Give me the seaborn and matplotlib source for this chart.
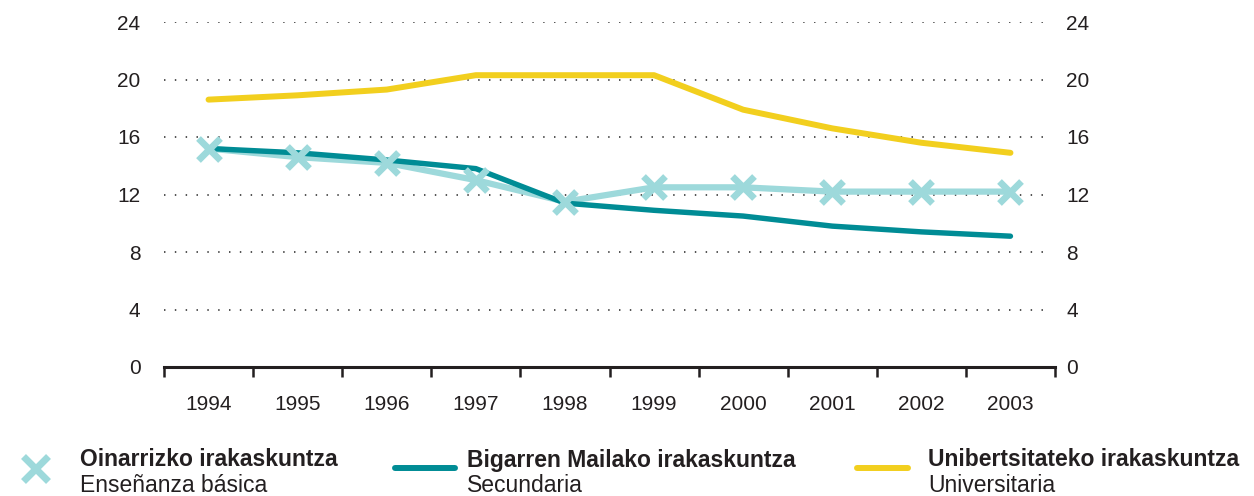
import matplotlib
matplotlib.use("Agg")
import matplotlib.pyplot as plt
from matplotlib.lines import Line2D
import seaborn as sns
import pandas as pd

years = ["1994", "1995", "1996", "1997", "1998", "1999", "2000", "2001", "2002", "2003"]
oinarrizko = [15.2, 14.6, 14.2, 13.0, 11.5, 12.5, 12.5, 12.2, 12.2, 12.2]
bigarren = [15.2, 14.9, 14.4, 13.8, 11.4, 10.9, 10.5, 9.8, 9.4, 9.1]
unibertsitate = [18.6, 18.9, 19.3, 20.3, 20.3, 20.3, 17.9, 16.6, 15.6, 14.9]
yticks = [0, 4, 8, 12, 16, 20, 24]

c_light = "#9DD9DB"
c_teal = "#008C95"
c_yellow = "#F2CF1E"
c_text = "#231f20"

sns.set_theme(style="white")
plt.rcParams["font.family"] = ["Liberation Sans", "DejaVu Sans"]

df = pd.DataFrame({"year": years, "oin": oinarrizko, "big": bigarren, "uni": unibertsitate})

fig = plt.figure(figsize=(12.54, 4.96), dpi=100)
ax = fig.add_axes([164 / 1254, 1 - 367 / 496, (1055 - 164) / 1254, (367 - 22) / 496])

sns.lineplot(data=df, x="year", y="uni", ax=ax, color=c_yellow, lw=4.3, zorder=3, sort=False)
sns.lineplot(data=df, x="year", y="oin", ax=ax, color=c_light, lw=4.5, zorder=3, sort=False)
sns.lineplot(data=df, x="year", y="big", ax=ax, color=c_teal, lw=3.9, zorder=4, sort=False)
sns.lineplot(data=df, x="year", y="oin", ax=ax, color=c_light, lw=0, marker="x",
             markersize=16.5, markeredgewidth=4.8, markeredgecolor=c_light, zorder=5, sort=False)

ax.set_xlim(-0.5, 9.5)
ax.set_ylim(0, 24)
ax.set_xlabel("")
ax.set_ylabel("")
ax.set_yticks(yticks)
ax.set_yticklabels([str(v) for v in yticks])
ax.set_xticks(range(len(years)))
ax.set_xticklabels(years)
ax.set_xticks([i - 0.5 for i in range(len(years) + 1)], minor=True)
ax.tick_params(axis="x", which="major", length=0, pad=20, labelsize=15, colors=c_text)
ax.tick_params(axis="x", which="minor", length=7, width=1.8, direction="out", color=c_text, bottom=True)
ax.tick_params(axis="y", length=0, pad=17, labelsize=15, colors=c_text)
for s in ["top", "right", "left"]:
    ax.spines[s].set_visible(False)
ax.spines["bottom"].set_linewidth(2.2)
ax.spines["bottom"].set_color(c_text)
ax.spines["bottom"].set_zorder(6)
for v in yticks[1:]:
    ax.axhline(v, color="#444444", lw=1.3, ls=(0, (0.8, 5.2)), zorder=1, xmin=0, xmax=0.99)

ax2 = ax.twinx()
ax2.set_ylim(0, 24)
ax2.set_yticks(yticks)
ax2.set_yticklabels([str(v) for v in yticks])
ax2.tick_params(axis="y", length=0, pad=8, labelsize=15, colors=c_text)
for s in ["top", "right", "left", "bottom"]:
    ax2.spines[s].set_visible(False)
ax2.grid(False)

# legend
def fx(px):
    return px / 1254
def fy(py):
    return 1 - py / 496

fig.add_artist(Line2D([fx(35)], [fy(468)], marker="x", color=c_light, markersize=18,
                      markeredgewidth=5, lw=0))
fig.add_artist(Line2D([fx(395), fx(455)], [fy(468), fy(468)], color=c_teal, lw=4.3))
fig.add_artist(Line2D([fx(857), fx(908)], [fy(468), fy(468)], color=c_yellow, lw=4.3))

items = [(80, "Oinarrizko irakaskuntza", "Enseñanza básica"),
         (467, "Bigarren Mailako irakaskuntza", "Secundaria"),
         (928, "Unibertsitateko irakaskuntza", "Universitaria")]
for x, b, r in items:
    fig.text(fx(x), fy(460), b, fontsize=16.5, fontweight="bold", color=c_text, va="center", ha="left")
    fig.text(fx(x), fy(485), r, fontsize=16.5, color=c_text, va="center", ha="left")

fig.savefig("out.png", dpi=100)
